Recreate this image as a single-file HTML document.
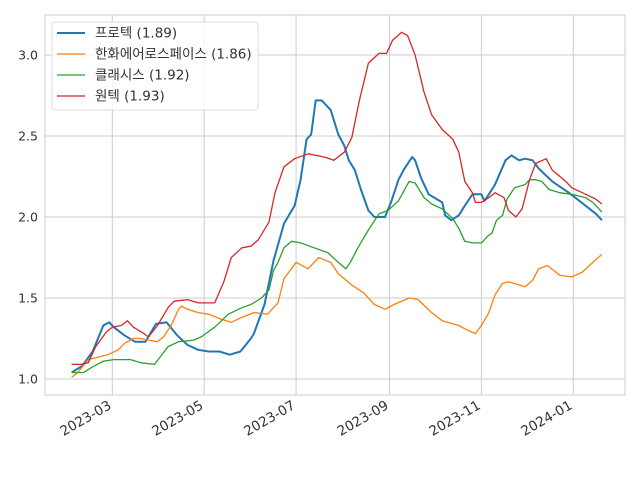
<!DOCTYPE html>
<html><head><meta charset="utf-8"><style>
html,body{margin:0;padding:0;background:#fff;}
svg text{font-family:"DejaVu Sans","Liberation Sans","Noto Sans CJK KR",sans-serif;fill:#333;}
</style></head><body>
<svg id="chart" width="640" height="480" viewBox="0 0 640 480" xmlns="http://www.w3.org/2000/svg">
<g id="grid"></g>
<rect x="45" y="15" width="580" height="380" fill="none" stroke="#ccc" stroke-width="1"/>
<g id="series"></g>
<g id="axes"></g>
<g id="legend"></g>
</svg>
<script>
// day offsets from 2023-02-02
const yTicks = [1.0, 1.5, 2.0, 2.5, 3.0];
const yTickLabels = ["1.0", "1.5", "2.0", "2.5", "3.0"];
const xTickDays = [27, 88, 149, 211, 272, 333];
const xTickLabels = ["2023-03", "2023-05", "2023-07", "2023-09", "2023-11", "2024-01"];
const seriesNames = ["프로텍 (1.89)", "한화에어로스페이스 (1.86)", "클래시스 (1.92)", "원텍 (1.93)"];
const blueDays = [0,7,14,21,25,28,35,42,49,56,63,70,77,84,91,98,105,112,119,121,128,134,141,148,152,156,159,162,166,170,172,177,181,184,188,192,197,201,208,212,217,221,226,228,232,237,246,248,252,257,261,266,272,274,277,281,288,292,297,301,306,310,319,330,337,348,352];
const blueVals = [1.04,1.08,1.17,1.33,1.35,1.32,1.27,1.23,1.23,1.34,1.35,1.27,1.21,1.18,1.17,1.17,1.15,1.17,1.25,1.28,1.46,1.73,1.96,2.07,2.23,2.48,2.51,2.72,2.72,2.68,2.66,2.51,2.44,2.35,2.29,2.17,2.04,2.00,2.00,2.09,2.23,2.30,2.37,2.35,2.24,2.14,2.09,2.01,1.98,2.01,2.07,2.14,2.14,2.10,2.14,2.20,2.35,2.38,2.35,2.36,2.35,2.30,2.22,2.15,2.10,2.02,1.98];
const orangeDays = [0,4,11,24,31,35,41,46,51,57,61,66,71,73,77,84,91,99,106,113,121,130,137,141,149,153,157,164,172,177,186,194,201,208,214,224,230,239,246,257,261,268,272,277,281,286,290,301,306,310,316,324,332,339,346,352];
const orangeVals = [1.01,1.04,1.12,1.15,1.18,1.22,1.25,1.25,1.24,1.23,1.26,1.33,1.43,1.45,1.43,1.41,1.40,1.37,1.35,1.38,1.41,1.40,1.47,1.62,1.72,1.70,1.68,1.75,1.72,1.65,1.58,1.53,1.46,1.43,1.46,1.50,1.49,1.41,1.36,1.33,1.31,1.28,1.33,1.41,1.52,1.59,1.60,1.57,1.61,1.68,1.70,1.64,1.63,1.66,1.72,1.77];
const greenDays = [0,8,13,21,28,39,46,55,64,71,81,86,95,104,113,119,126,131,134,137,141,146,152,161,170,177,182,185,190,197,204,210,217,224,228,234,239,246,253,257,261,266,272,276,279,282,286,289,294,301,304,308,312,317,324,332,341,346,352];
const greenVals = [1.04,1.04,1.07,1.11,1.12,1.12,1.10,1.09,1.20,1.23,1.24,1.26,1.32,1.40,1.44,1.46,1.50,1.55,1.67,1.72,1.81,1.85,1.84,1.81,1.78,1.72,1.68,1.72,1.81,1.92,2.02,2.04,2.10,2.22,2.21,2.12,2.08,2.05,1.99,1.93,1.85,1.84,1.84,1.88,1.90,1.98,2.01,2.11,2.18,2.20,2.23,2.23,2.22,2.17,2.15,2.14,2.12,2.09,2.03];
const redDays = [0,6,11,16,23,27,33,37,41,48,51,57,64,68,77,84,95,101,106,113,119,124,131,135,141,148,157,168,174,181,186,191,197,204,209,213,219,223,228,234,239,246,253,257,261,266,268,272,277,281,287,290,295,299,304,308,315,319,328,332,339,348,352];
const redVals = [1.09,1.09,1.10,1.20,1.29,1.32,1.33,1.36,1.32,1.28,1.26,1.33,1.44,1.48,1.49,1.47,1.47,1.60,1.75,1.81,1.82,1.86,1.97,2.15,2.31,2.36,2.39,2.37,2.35,2.40,2.49,2.72,2.95,3.01,3.01,3.09,3.14,3.12,3.00,2.77,2.63,2.54,2.48,2.40,2.22,2.15,2.09,2.09,2.12,2.15,2.12,2.04,2.00,2.05,2.23,2.33,2.36,2.29,2.22,2.18,2.15,2.11,2.08];

const NS = "http://www.w3.org/2000/svg";
const xScale = d => 112.3 + (d - 27) * 1.5065;
const yScale = v => 379 - (v - 1) * 162;
function mk(tag, attrs, parent) {
  const el = document.createElementNS(NS, tag);
  for (const k in attrs) el.setAttribute(k, attrs[k]);
  parent.appendChild(el);
  return el;
}
const grid = document.getElementById("grid");
const axes = document.getElementById("axes");
yTicks.forEach((t, i) => {
  const y = yScale(t);
  const l = mk("line", {x1: 45, x2: 625, y1: y, y2: y, stroke: "#ccc", "stroke-width": 1}, grid);
  
  
  const tx = mk("text", {x: 38, y: y + 4.5, "text-anchor": "end", "font-size": 12.5}, axes);
  tx.textContent = yTickLabels[i];
  
  
});
xTickDays.forEach((d, i) => {
  const x = xScale(d);
  const l = mk("line", {x1: x, x2: x, y1: 15, y2: 395, stroke: "#ccc", "stroke-width": 1}, grid);
  
  
  const tx = mk("text", {x: x, y: 408, "text-anchor": "end", "font-size": 13.5, transform: `rotate(-30 ${x} 408)`}, axes);
  tx.textContent = xTickLabels[i];
  
  
});
const colors = ["#1f77b4", "#ff7f0e", "#2ca02c", "#d62728"];
const widths = [2, 1.3, 1.3, 1.3];
const allDays = [blueDays, orangeDays, greenDays, redDays];
const allVals = [blueVals, orangeVals, greenVals, redVals];
const names = ["series-protec", "series-hanwha-aerospace", "series-classys", "series-wontech"];
const sg = document.getElementById("series");
allDays.forEach((days, s) => {
  const pts = days.map((d, i) => xScale(d).toFixed(1) + "," + yScale(allVals[s][i]).toFixed(1)).join(" ");
  const p = mk("polyline", {points: pts, fill: "none", stroke: colors[s], "stroke-width": widths[s], "stroke-linejoin": "round"}, sg);
  
  
});
const lg = document.getElementById("legend");
const box = mk("rect", {x: 52, y: 22, width: 206, height: 88, rx: 3, fill: "#fff", "fill-opacity": 0.8, stroke: "#ddd"}, lg);


seriesNames.forEach((n, i) => {
  const y = 33 + i * 21;
  const l = mk("line", {x1: 57, x2: 85, y1: y, y2: y, stroke: colors[i], "stroke-width": widths[i]}, lg);
  
  
  const t = mk("text", {x: 95, y: y + 4.5, "font-size": 13.5}, lg);
  t.textContent = n;
  
  
});
</script>
</body></html>
